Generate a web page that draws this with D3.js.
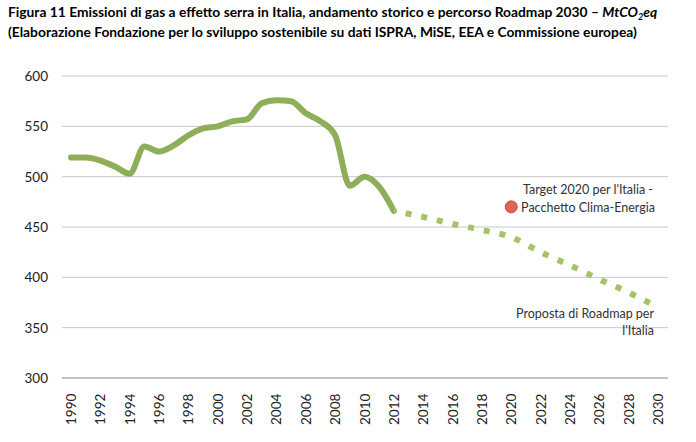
<!DOCTYPE html>
<html><head><meta charset="utf-8">
<script src="https://cdn.jsdelivr.net/npm/d3@7"></script>
<style>body{margin:0;background:#fff;font-family:Lato,"Open Sans",sans-serif;}</style>
</head><body><div id="c"></div>
<script>
const histYears = [1990,1991,1992,1993,1994,1995,1996,1997,1998,1999,2000,2001,2002,2003,2004,2005,2006,2007,2008,2009,2010,2011,2012];
const histValues = [519,519,516,510,503,530,525,531,541,548,550,555,557,573,576,575,563,555,541,491,500,490,466];
const roadYears = [2012,2014,2016,2018,2020,2022,2024,2026,2028,2030];
const roadValues = [466,460,453,447,440,425,412,398,385,370];
const targetYear = [2020];
const targetValue = [470];
const yTicks = [300,350,400,450,500,550,600];
const xTicks = d3.range(1990, 2031, 2);

const W = 696, H = 442;
const svg = d3.select("#c").append("svg").attr("width", W).attr("height", H);

svg.append("text").attr("x", 8).attr("y", 17).attr("font-weight", "bold").attr("font-size", 13.8)
  .html('Figura 11 Emissioni di gas a effetto serra in Italia, andamento storico e percorso Roadmap 2030 – <tspan font-style="italic">MtCO</tspan><tspan font-style="italic" font-size="9" dy="3">2</tspan><tspan font-style="italic" dy="-3">eq</tspan>');
svg.append("text").attr("x", 8).attr("y", 37).attr("font-weight", "bold").attr("font-size", 13.8)
  .text("(Elaborazione Fondazione per lo sviluppo sostenibile su dati ISPRA, MiSE, EEA e Commissione europea)");

const x = d3.scaleLinear().domain([1990, 2030]).range([71, 658]);
const y = d3.scaleLinear().domain([300, 600]).range([378, 76]);

svg.append("g").selectAll("line").data(yTicks).join("line")
  .attr("x1", 62).attr("x2", 668).attr("y1", d => y(d)).attr("y2", d => y(d))
  .attr("stroke", d => d === 300 ? "#888" : "#c8c8c8").attr("stroke-width", 1);

svg.append("g").selectAll("text").data(yTicks).join("text")
  .attr("x", 48).attr("y", d => y(d) + 5).attr("text-anchor", "end")
  .attr("font-size", 13.5).attr("fill", "#222").text(d => d);

svg.append("g").selectAll("text").data(xTicks).join("text")
  .attr("transform", d => `translate(${x(d) + 5},${425}) rotate(-90)`)
  .attr("font-size", 13.5).attr("fill", "#222").text(d => d);

const line = d3.line().x(d => x(d[0])).y(d => y(d[1])).curve(d3.curveMonotoneX);

svg.append("path").datum(histYears.map((d, i) => [d, histValues[i]]))
  .attr("d", line).attr("fill", "none").attr("stroke", "#8fae5a")
  .attr("stroke-width", 6).attr("stroke-linecap", "round").attr("stroke-linejoin", "round");

svg.append("path").datum(roadYears.map((d, i) => [d, roadValues[i]]))
  .attr("d", line).attr("fill", "none").attr("stroke", "#a4c36a")
  .attr("stroke-width", 6).attr("stroke-dasharray", "6 10").attr("stroke-dashoffset", -12);

svg.append("g").selectAll("circle").data(targetYear).join("circle")
  .attr("cx", d => x(d)).attr("cy", (d, i) => y(targetValue[i])).attr("r", 6)
  .attr("fill", "#e0645a").attr("stroke", "#c94a40");

svg.append("text").attr("x", 588).attr("y", 194).attr("text-anchor", "middle").attr("font-size", 12.5).attr("fill", "#333").text("Target 2020 per l'Italia -");
svg.append("text").attr("x", 588).attr("y", 212).attr("text-anchor", "middle").attr("font-size", 12.5).attr("fill", "#333").text("Pacchetto Clima-Energia");
svg.append("text").attr("x", 654).attr("y", 318).attr("text-anchor", "end").attr("font-size", 12.5).attr("fill", "#333").text("Proposta di Roadmap per");
svg.append("text").attr("x", 654).attr("y", 335).attr("text-anchor", "end").attr("font-size", 12.5).attr("fill", "#333").text("l'Italia");
</script></body></html>
